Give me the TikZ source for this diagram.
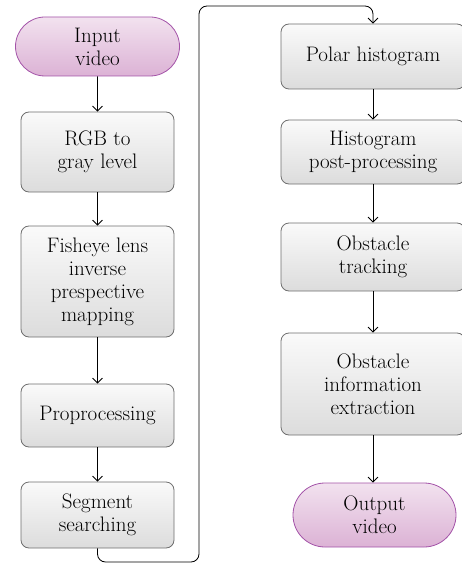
\documentclass[tikz,border=0pt]{standalone}
\usepackage{xcolor}
\usepackage{tikz}
\usetikzlibrary{shapes.misc,arrows.meta,positioning,calc}
\definecolor{BoxLine}{HTML}{6E6E6E}
\definecolor{BoxTop}{HTML}{FAFAFA}
\definecolor{BoxBottom}{HTML}{DCDCDC}
\definecolor{TermLine}{HTML}{A352A8}
\definecolor{TermTop}{HTML}{F2E2EF}
\definecolor{TermBottom}{HTML}{DCB2D5}

\begin{document}
\begin{tikzpicture}[x=1pt, y=-1pt,
  stepbox/.style={draw=BoxLine, line width=0.8pt, rounded corners=8pt,
    top color=BoxTop, bottom color=BoxBottom, align=center,
    font=\fontsize{21}{23}\selectfont, inner sep=2pt},
  terminal/.style={rounded rectangle, draw=TermLine, line width=0.8pt,
    top color=TermTop, bottom color=TermBottom, align=center,
    font=\fontsize{21}{23}\selectfont, inner sep=2pt},
  flow/.style={draw=black, line width=0.8pt, -{Straight Barb[length=5pt,width=10pt]}}]

\useasboundingbox (0,0) rectangle (462,564);

% left column
\node[terminal, minimum width=168pt, minimum height=59pt] (in) at (97.5,46.5) {Input\\video};
\node[stepbox, minimum width=153pt, minimum height=80pt] (rgb) at (97.5,152) {RGB to\\gray level};
\node[stepbox, minimum width=153pt, minimum height=111pt] (fish) at (97.5,281.5) {Fisheye lens\\inverse\\prespective\\mapping};
\node[stepbox, minimum width=153pt, minimum height=63pt] (pre) at (97.5,415.5) {Proprocessing};
\node[stepbox, minimum width=153pt, minimum height=66pt] (seg) at (97.5,515) {Segment\\searching};

% right column
\node[stepbox, minimum width=184pt, minimum height=65pt] (polar) at (373,56.5) {Polar histogram};
\node[stepbox, minimum width=184pt, minimum height=64pt] (hist) at (373,152) {Histogram\\post-processing};
\node[stepbox, minimum width=184pt, minimum height=68pt] (track) at (373,257) {Obstacle\\tracking};
\node[stepbox, minimum width=184pt, minimum height=102pt] (info) at (373,384) {Obstacle\\information\\extraction};
\node[terminal, minimum width=167pt, minimum height=64pt] (out) at (374.5,515) {Output\\video};

% arrows
\draw[flow] (in) -- (rgb);
\draw[flow] (rgb) -- (fish);
\draw[flow] (fish) -- (pre);
\draw[flow] (pre) -- (seg);
\draw[flow] (polar) -- (hist);
\draw[flow] (hist) -- (track);
\draw[flow] (track) -- (info);
\draw[flow] (info.south) -- (out.north -| info.south);

% loop from left column to right column
\coordinate (bot) at (199,562);
\coordinate (top) at (199,6);
\draw[flow, rounded corners=8pt] (seg.south) |- (bot) -- (top) -| (polar.north);
\end{tikzpicture}
\end{document}
